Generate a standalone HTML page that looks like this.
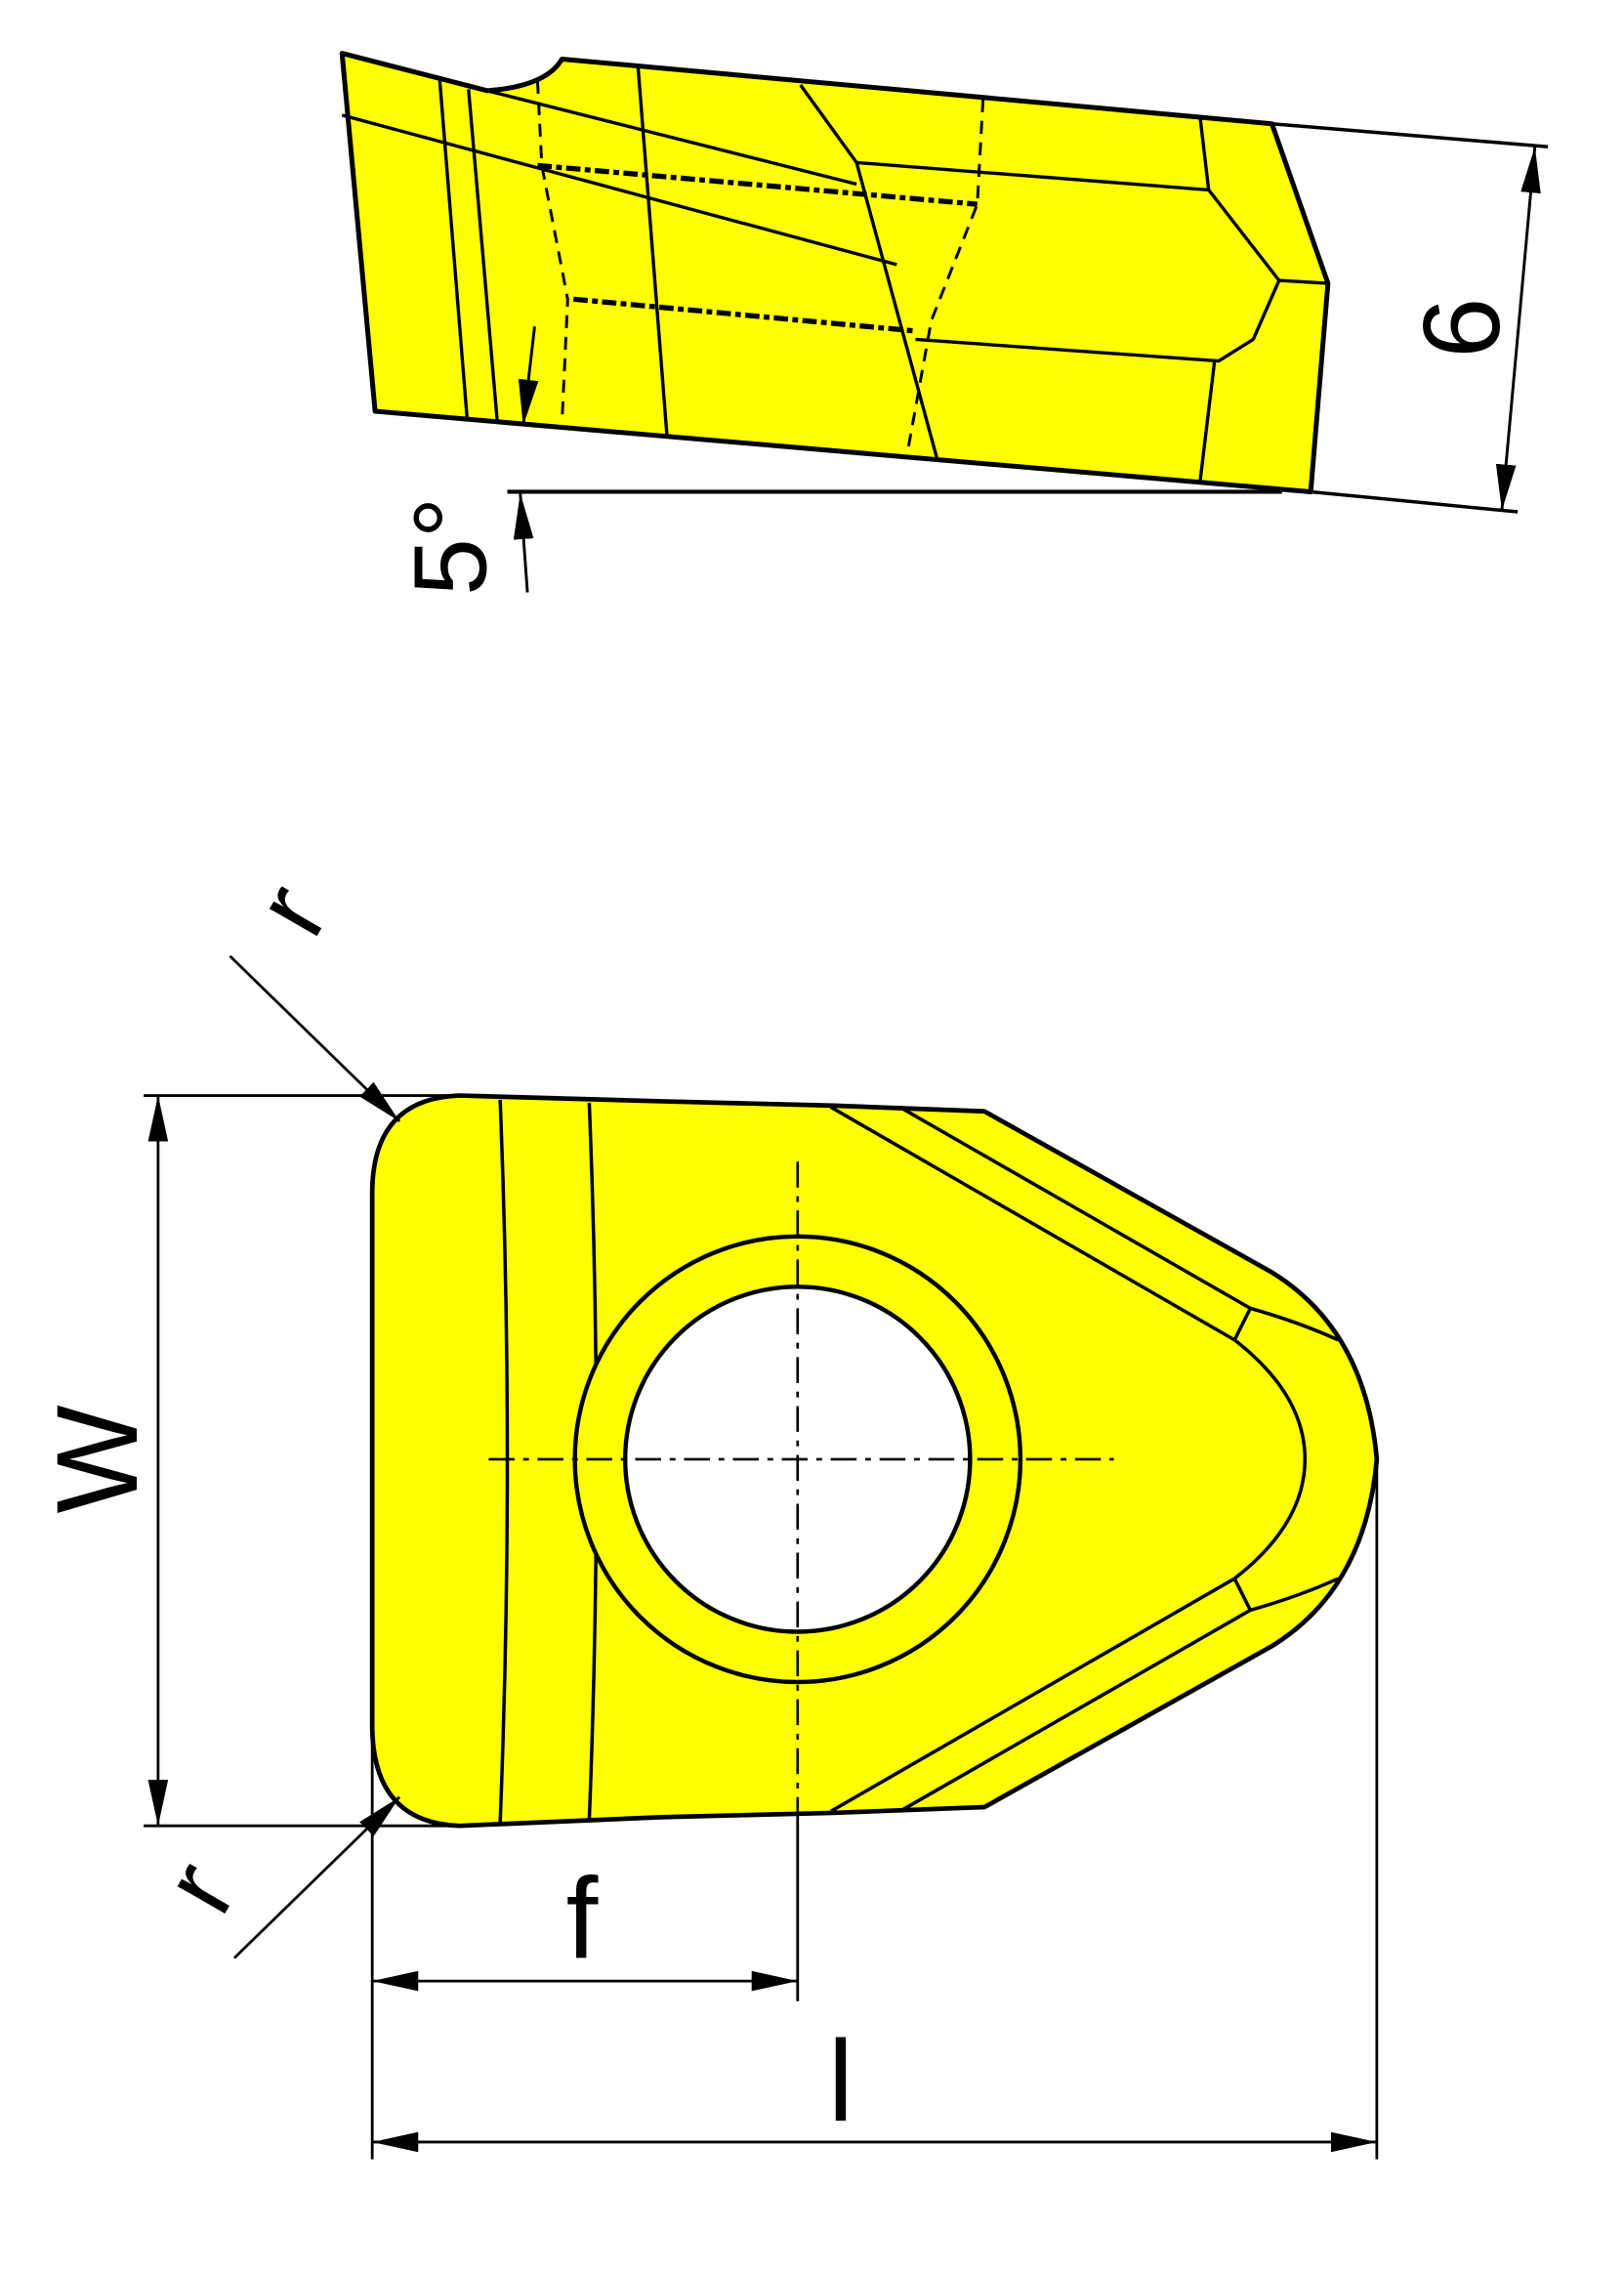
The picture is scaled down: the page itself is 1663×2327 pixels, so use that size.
<!DOCTYPE html>
<html><head><meta charset="utf-8"><style>html,body{margin:0;padding:0;background:#fff}svg{display:block}</style></head>
<body>
<svg xmlns="http://www.w3.org/2000/svg" width="1663" height="2327" viewBox="0 0 1130 1581">
<defs>
<marker id="a" markerUnits="userSpaceOnUse" markerWidth="34" markerHeight="16" refX="32" refY="7" orient="auto-start-reverse"><path d="M0,0 L32,7 L0,14 z" fill="#000"/></marker>
</defs>
<g stroke="#000" fill="none" stroke-linejoin="round">
<!-- TOP VIEW -->
<path d="M238,37 L339,63 Q380,60 391,41 L885,86 L924,197 L912,342 L261,286 Z" fill="#ffff00" stroke-width="3.4"/>
<line x1="885" y1="86" x2="1077" y2="102" stroke-width="2.4"/>
<line x1="912" y1="342" x2="1056" y2="356" stroke-width="2.4"/>
<line x1="353" y1="342" x2="892" y2="342" stroke-width="2.8"/>
<g stroke-width="2.3">
<line x1="238" y1="80" x2="624" y2="184"/>
<line x1="339" y1="63" x2="596" y2="128"/>
<line x1="306" y1="56" x2="325" y2="291"/>
<line x1="326" y1="62" x2="346" y2="293"/>
<line x1="444" y1="47" x2="464" y2="302"/>
<polyline points="557,59 596,113 652,319"/>
<polyline points="596,113 841,132 890,195 924,197"/>
<polyline points="890,195 872,236 848,251 637,236"/>
<line x1="835" y1="81" x2="841" y2="132"/>
<line x1="845" y1="252" x2="835" y2="335"/>
</g>
<g stroke-width="2" stroke-dasharray="9,6">
<polyline points="374,56 377,115 395,208 391,294"/>
<polyline points="684,69 680,142 648,223 631,317"/>
</g>
<g stroke-width="3.6" stroke-dasharray="10,3,4,3">
<line x1="374" y1="115" x2="680" y2="142"/>
<line x1="399" y1="208" x2="635" y2="230"/>
</g>
<line x1="1068" y1="102" x2="1045" y2="355" stroke-width="2" marker-start="url(#a)" marker-end="url(#a)"/>
<line x1="372" y1="227" x2="364" y2="296" stroke-width="2" marker-end="url(#a)"/>
<line x1="367" y1="412" x2="362" y2="343" stroke-width="2" marker-end="url(#a)"/>

<!-- BOTTOM VIEW -->
<path d="M320,762 L460,766 L580,769 L685,773 L885,885 Q950,925 958,1015 Q950,1105 885,1145 L685,1257 L580,1261 L460,1264 L320,1270 Q259,1268 259,1200 L259,830 Q259,764 320,762 Z" fill="#ffff00" stroke-width="3.2"/>
<g stroke-width="2.4">
<path d="M348,765 Q358,1015 348,1268"/>
<path d="M410,767 Q420,1015 410,1266"/>
<line x1="578" y1="770" x2="859" y2="932"/>
<line x1="626" y1="770" x2="870" y2="910"/>
<line x1="578" y1="1260" x2="859" y2="1098"/>
<line x1="626" y1="1260" x2="870" y2="1120"/>
<line x1="870" y1="910" x2="859" y2="932"/>
<line x1="870" y1="1120" x2="859" y2="1098"/>
<path d="M859,932 Q908,970 908,1015 Q908,1060 859,1098"/>
<path d="M870,910 Q905,920 931,932"/>
<path d="M870,1120 Q905,1110 931,1098"/>
</g>
<circle cx="555" cy="1015" r="155" fill="#ffff00" stroke-width="3"/>
<circle cx="555" cy="1015" r="120" fill="#fff" stroke-width="3"/>
<g stroke-width="1.8" stroke-dasharray="18,6,4,6">
<line x1="340" y1="1015" x2="775" y2="1015"/>
<line x1="555" y1="808" x2="555" y2="1262"/>
</g>
<g stroke-width="1.9">
<line x1="555" y1="1262" x2="555" y2="1392"/>
<line x1="100" y1="762" x2="322" y2="762"/>
<line x1="100" y1="1270" x2="325" y2="1270"/>
<line x1="259" y1="1200" x2="259" y2="1502"/>
<line x1="958" y1="1015" x2="958" y2="1502"/>
<line x1="110" y1="762" x2="110" y2="1270" marker-start="url(#a)" marker-end="url(#a)"/>
<line x1="259" y1="1378" x2="555" y2="1378" marker-start="url(#a)" marker-end="url(#a)"/>
<line x1="259" y1="1490" x2="958" y2="1490" marker-start="url(#a)" marker-end="url(#a)"/>
<line x1="160" y1="665" x2="278" y2="780" marker-end="url(#a)"/>
<line x1="163" y1="1362" x2="278" y2="1250" marker-end="url(#a)"/>
</g>
</g>
<g font-family="Liberation Sans, sans-serif" fill="#000">
<text x="0" y="0" font-size="80" text-anchor="middle" transform="translate(95,1015) rotate(-90)">W</text>
<text x="0" y="0" font-size="76" text-anchor="middle" transform="translate(1043,228) rotate(-90)">6</text>
<text x="0" y="0" font-size="72" text-anchor="middle" transform="translate(338,380) rotate(-90)">5°</text>
<text x="0" y="0" font-size="72" text-anchor="middle" transform="translate(224,645) rotate(-60)">r</text>
<text x="0" y="0" font-size="72" text-anchor="middle" transform="translate(160,1325) rotate(-60)">r</text>
<text x="405" y="1362" font-size="80" text-anchor="middle">f</text>
<text x="585" y="1475" font-size="80" text-anchor="middle">l</text>
</g>
</svg>
</body></html>
